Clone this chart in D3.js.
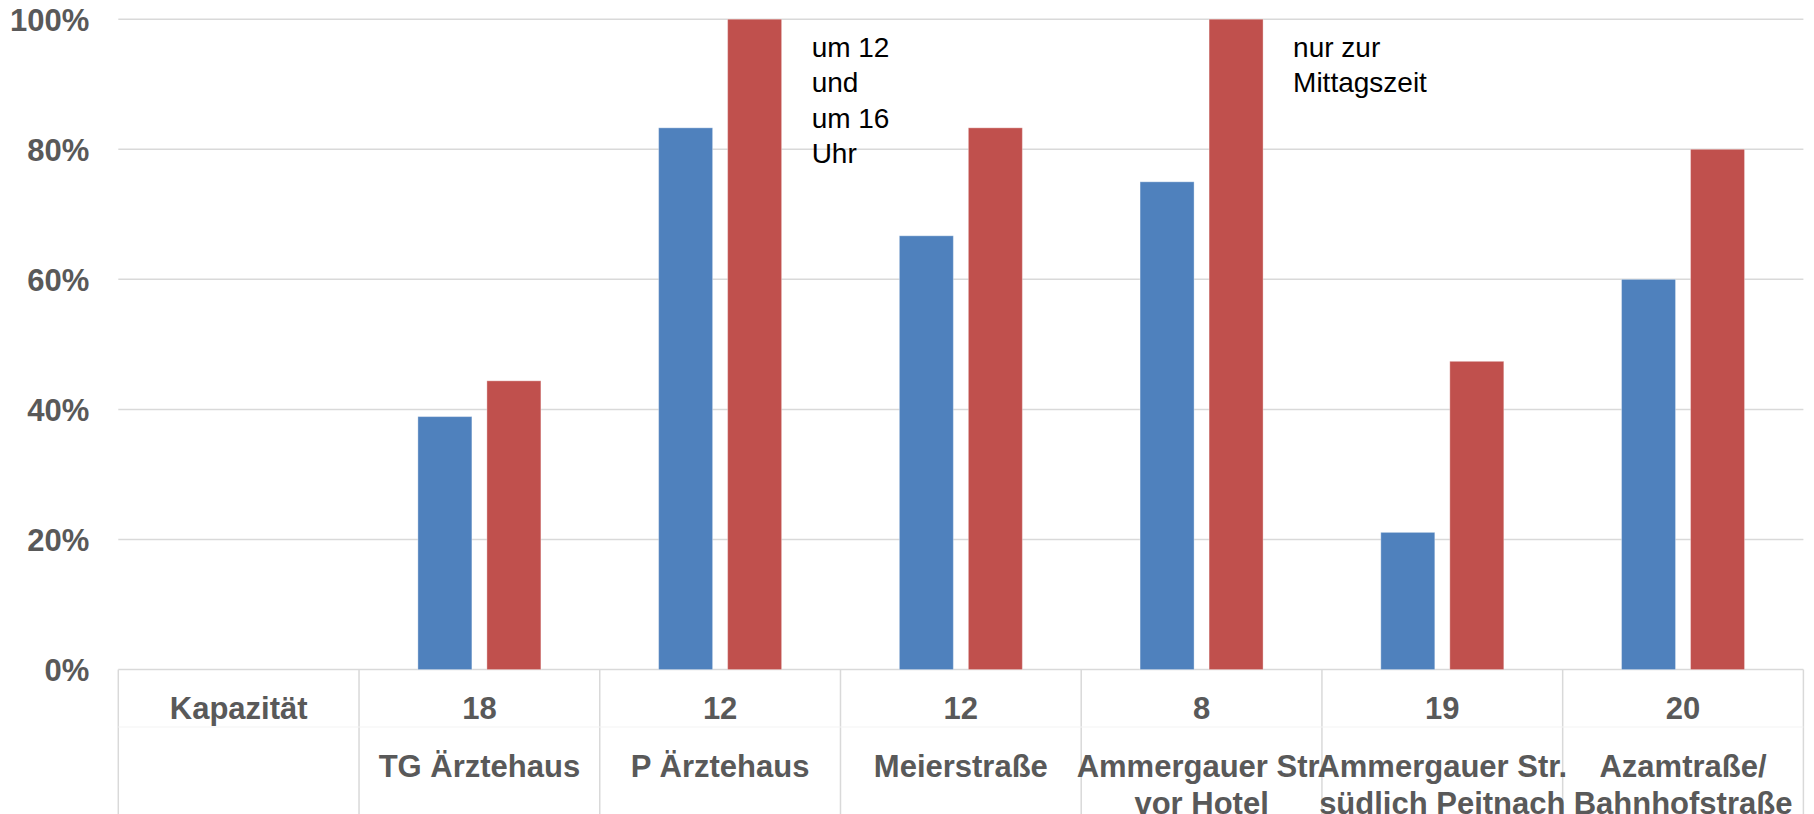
<!DOCTYPE html>
<html>
<head>
<meta charset="utf-8">
<script src="https://cdn.jsdelivr.net/npm/d3@7"></script>
<style>
  html, body { margin: 0; padding: 0; background: #ffffff; }
  svg { display: block; }
</style>
</head>
<body>
<svg id="chart" width="1814" height="814"></svg>
<script>
// ---- data ----
const capacityLabels = ["Kapazität", "18", "12", "12", "8", "19", "20"];
const locationLabels = [
  [],
  ["TG Ärztehaus"],
  ["P Ärztehaus"],
  ["Meierstraße"],
  ["Ammergauer Str.", "vor Hotel"],
  ["Ammergauer Str.", "südlich Peitnach"],
  ["Azamtraße/", "Bahnhofstraße"]
];
const seriesNames = ["Auslastung A", "Auslastung B"];
const seriesA = [null, 0.389, 0.833, 0.667, 0.75, 0.211, 0.60];
const seriesB = [null, 0.444, 1.00, 0.833, 1.00, 0.474, 0.80];
const yTicks = [0, 0.2, 0.4, 0.6, 0.8, 1.0];
const annotations = [
  { index: 2, lines: ["um 12", "und", "um 16", "Uhr"] },
  { index: 4, lines: ["nur zur", "Mittagszeit"] }
];
const seriesColors = ["#4f81bd", "#c0504d"];

(function () {
// ---- layout ----
const svg = d3.select("#chart");
const plotLeft = 118.3, plotRight = 1803.4, plotTop = 19.2, plotBase = 669.6, plotBottom = 814;
const gridColor = "#d9d9d9";
const labelColor = "#595959";
const font = "'Liberation Sans', Arial, Helvetica, sans-serif";

const idx = capacityLabels.map((d, i) => i);
const x = d3.scaleBand().domain(idx).range([plotLeft, plotRight]).paddingInner(0).paddingOuter(0);
const xs = d3.scaleBand().domain(seriesNames).range([0, x.bandwidth()])
  .paddingInner(0.2174).paddingOuter(0.853);
const y = d3.scaleLinear().domain([0, 1]).range([plotBase, plotTop]);

// gridlines
svg.append("g").selectAll("line").data(yTicks).join("line")
  .attr("x1", plotLeft).attr("x2", plotRight)
  .attr("y1", d => y(d)).attr("y2", d => y(d))
  .attr("stroke", gridColor).attr("stroke-width", 1.5);

// y axis labels
const yAxis = d3.axisLeft(y).tickValues(yTicks).tickFormat(d3.format(".0%")).tickSize(0).tickPadding(0);
const yg = svg.append("g").attr("transform", `translate(${plotLeft - 29},0)`).call(yAxis);
yg.select(".domain").remove();
yg.selectAll("text")
  .attr("fill", labelColor).attr("font-family", font)
  .attr("font-size", 31).attr("font-weight", "bold")
  .attr("dy", "0.35em");

// bars
const allSeries = [seriesA, seriesB];
allSeries.forEach((vals, s) => {
  svg.append("g").selectAll("rect")
    .data(vals.map((v, i) => ({ v, i })).filter(d => d.v !== null))
    .join("rect")
    .attr("x", d => x(d.i) + xs(seriesNames[s]))
    .attr("width", xs.bandwidth())
    .attr("y", d => y(d.v))
    .attr("height", d => y(0) - y(d.v))
    .attr("fill", seriesColors[s])
    .attr("stroke", "rgba(255,255,255,0.35)")
    .attr("stroke-width", 1);
});

// category table
const tbl = svg.append("g");
const bounds = idx.map(i => x(i)).concat([plotRight]);
tbl.selectAll("line.v").data(bounds).join("line")
  .attr("class", "v")
  .attr("x1", d => d).attr("x2", d => d)
  .attr("y1", plotBase).attr("y2", plotBottom)
  .attr("stroke", gridColor).attr("stroke-width", 1.5);
tbl.append("line")
  .attr("x1", plotLeft).attr("x2", plotRight).attr("y1", 727).attr("y2", 727)
  .attr("stroke", "#f3f3f3").attr("stroke-width", 1);

tbl.selectAll("text.cap").data(idx).join("text")
  .attr("class", "cap")
  .attr("x", i => x(i) + x.bandwidth() / 2)
  .attr("y", 708)
  .attr("dy", "0.35em")
  .attr("text-anchor", "middle")
  .attr("fill", labelColor).attr("font-family", font)
  .attr("font-size", 31).attr("font-weight", "bold")
  .text(i => capacityLabels[i]);

idx.forEach(i => {
  locationLabels[i].forEach((line, k) => {
    tbl.append("text")
      .attr("x", x(i) + x.bandwidth() / 2)
      .attr("y", 766 + k * 37)
      .attr("dy", "0.35em")
      .attr("text-anchor", "middle")
      .attr("fill", labelColor).attr("font-family", font)
      .attr("font-size", 31).attr("font-weight", "bold")
      .text(line);
  });
});

// annotations
annotations.forEach(a => {
  const ax = x(a.index) + xs(seriesNames[1]) + xs.bandwidth() + 30;
  const t = svg.append("text")
    .attr("font-family", font).attr("font-size", 28)
    .attr("fill", "#000000");
  a.lines.forEach((line, k) => {
    t.append("tspan").attr("x", ax).attr("y", y(1) + 37.5 + k * 35.4).text(line);
  });
});
})();
</script>
</body>
</html>
